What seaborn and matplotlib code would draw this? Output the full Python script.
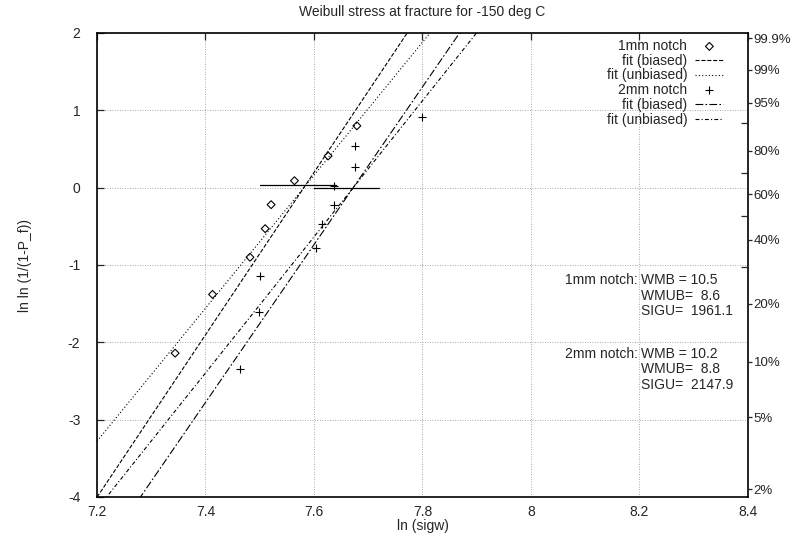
import numpy as np
import pandas as pd
import seaborn as sns
import matplotlib.pyplot as plt

# measured points: ln(sigw) vs ln ln (1/(1-P_f))
x_1mm = [7.344, 7.413, 7.482, 7.510, 7.521, 7.564, 7.626, 7.679]
y_1mm = [-2.14, -1.38, -0.90, -0.53, -0.22, 0.09, 0.41, 0.80]
x_2mm = [7.464, 7.499, 7.500, 7.604, 7.614, 7.637, 7.637, 7.676, 7.676, 7.800]
y_2mm = [-2.35, -1.61, -1.14, -0.78, -0.47, -0.22, 0.02, 0.27, 0.54, 0.92]

# Weibull fit results
notches = ["1mm notch", "2mm notch"]
wmb = [10.5, 10.2]
wmub = [8.6, 8.8]
sigu = [1961.1, 2147.9]

# horizontal range bars near y = 0
bar_lo = [7.50, 7.60]
bar_hi = [7.64, 7.72]
bar_y = [0.03, 0.00]

# right axis probability ticks (%)
pct_major = [99.9, 99, 95, 80, 60, 40, 20, 10, 5, 2]
pct_minor = [90, 70, 50, 30]

sns.set_style("white")
plt.rcParams["font.family"] = ["Liberation Sans", "DejaVu Sans"]
plt.rcParams["font.size"] = 10
plt.rcParams["axes.unicode_minus"] = False


def weibull_y(p):
    p = np.asarray(p) / 100.0
    return np.log(-np.log(1.0 - p))


fig = plt.figure(figsize=(7.92, 5.33), dpi=100)
ax = fig.add_axes([97 / 792, 1 - 497 / 533, 651 / 792, 464 / 533])

xs = np.array([7.2, 8.4])
fits = []
styles_b = ["--", (0, (7, 2, 1.5, 2))]
styles_u = [(0, (1, 2)), (0, (3.5, 2, 1, 2))]
for i, name in enumerate(notches):
    x0 = np.log(sigu[i])
    df_b = pd.DataFrame({"x": xs, "y": wmb[i] * (xs - x0)})
    df_u = pd.DataFrame({"x": xs, "y": wmub[i] * (xs - x0)})
    sns.lineplot(data=df_b, x="x", y="y", ax=ax, color="black", lw=0.8,
                 linestyle=styles_b[i], label="fit (biased)")
    sns.lineplot(data=df_u, x="x", y="y", ax=ax, color="black", lw=0.8,
                 linestyle=styles_u[i], label="fit (unbiased)")
    fits.append((ax.lines[-2], ax.lines[-1]))
    ax.plot([bar_lo[i], bar_hi[i]], [bar_y[i], bar_y[i]], color="black", lw=0.9)

sns.scatterplot(x=x_1mm, y=y_1mm, ax=ax, marker="D", s=16, color="black",
                facecolors="none", edgecolor="black", linewidth=0.8,
                label="1mm notch")
p1 = ax.collections[-1]
sns.scatterplot(x=x_2mm, y=y_2mm, ax=ax, marker="+", s=30, color="black",
                linewidth=0.8, label="2mm notch")
p2 = ax.collections[-1]

ax.set_xlim(7.2, 8.4)
ax.set_ylim(-4, 2)
ax.set_xticks([7.2, 7.4, 7.6, 7.8, 8.0, 8.2, 8.4])
ax.set_xticklabels(["7.2", "7.4", "7.6", "7.8", "8", "8.2", "8.4"])
ax.set_yticks([-4, -3, -2, -1, 0, 1, 2])
ax.grid(True, linestyle=(0, (1, 2)), color="0.55", lw=0.6)
ax.tick_params(direction="in", top=True, right=True, length=5, width=0.9,
               labelsize=10)
ax.tick_params(axis="x", pad=6)
ax.tick_params(axis="y", pad=12)
for s in ax.spines.values():
    s.set_linewidth(1.2)
    s.set_color("black")

ax.set_title("Weibull stress at fracture for -150 deg C", fontsize=10, pad=12)
ax.set_xlabel("ln (sigw)", fontsize=10, labelpad=0)
ax.set_ylabel("ln ln (1/(1-P_f))", fontsize=10, labelpad=26)

handles = [p1, fits[0][0], fits[0][1], p2, fits[1][0], fits[1][1]]
labels = ["1mm notch", "fit (biased)", "fit (unbiased)",
          "2mm notch", "fit (biased)", "fit (unbiased)"]
ax.legend(handles, labels, loc="upper right", bbox_to_anchor=(0.962, 0.987),
          frameon=False, markerfirst=False, borderpad=0, borderaxespad=0,
          handlelength=2.0, handletextpad=0.6, labelspacing=0.05, fontsize=10)

# fit parameter annotations
rows_y = [[-1.2, -1.4, -1.6], [-2.15, -2.35, -2.55]]
for i, name in enumerate(notches):
    ax.annotate(name + ":", (8.2, rows_y[i][0]), xytext=(-1, 0),
                textcoords="offset points", ha="right", va="center", fontsize=10)
    vals = [f"WMB = {wmb[i]}", f"WMUB=  {wmub[i]}", f"SIGU=  {sigu[i]}"]
    for t, yy in zip(vals, rows_y[i]):
        ax.annotate(t, (8.2, yy), xytext=(1, 0), textcoords="offset points",
                    ha="left", va="center", fontsize=10)

# right axis: failure probability
ax2 = ax.twinx()
ax2.set_ylim(-4, 2)
ax2.set_yticks(weibull_y(pct_major))
ax2.set_yticklabels([f"{p:g}%" for p in pct_major])
ax2.set_yticks(weibull_y(pct_minor), minor=True)
ax2.tick_params(axis="y", which="major", direction="out", length=3, width=0.9,
                pad=1, labelsize=9.5)
ax2.tick_params(axis="y", which="minor", direction="in", length=5, width=0.9)
ax2.grid(False)
for s in ax2.spines.values():
    s.set_visible(False)

fig.savefig("out.png", dpi=100)
